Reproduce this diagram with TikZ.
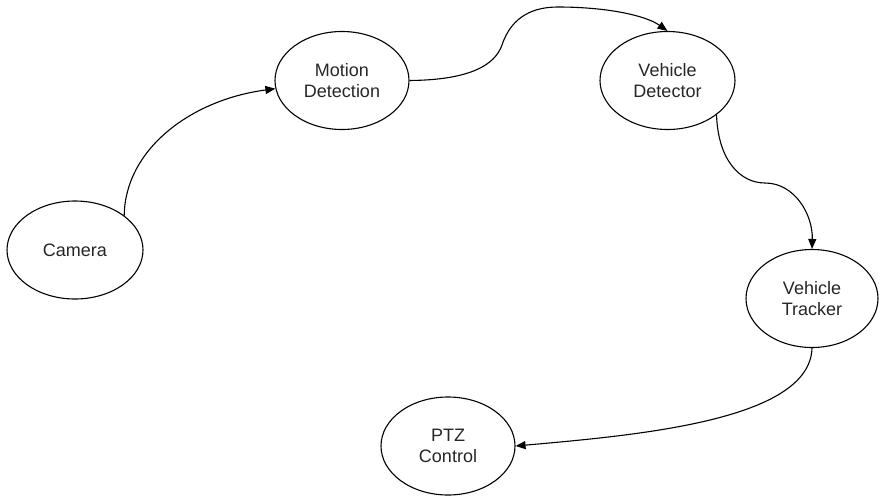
\documentclass[tikz,border=0pt]{standalone}
\usepackage{fontspec}
\setmainfont{Liberation Sans}
\usetikzlibrary{shapes.geometric,arrows.meta}
\begin{document}
\begin{tikzpicture}[x=1pt,y=-1pt,
  stage/.style={ellipse, draw=black, line width=1.1pt, inner sep=0pt,
    minimum width=134pt, minimum height=98pt, align=center,
    text=black!85, font=\fontsize{18}{21.5}\selectfont},
  flow/.style={draw=black, line width=1.1pt, -{Triangle[length=10pt,width=8pt]}}]
\useasboundingbox (0,0) rectangle (879,496);
\node[stage, minimum width=136pt] (cam) at (75,250) {Camera};
\node[stage] (md) at (342,80.5) {Motion\\Detection};
\node[stage, minimum width=135pt] (vd) at (667.5,80.5) {Vehicle\\Detector};
\node[stage, minimum width=132pt] (vt) at (812,298.5) {Vehicle\\Tracker};
\node[stage] (ptz) at (448,446) {PTZ\\Control};
\draw[flow] (cam.35) .. controls (125,150) and (190,100) .. (md.187);
\draw[flow] (md.east) .. controls (470,80) and (495,65) .. (502,45)
  .. controls (512,15) and (535,7) .. (558,7)
  .. controls (605,7) and (645,15) .. (vd.north);
\draw[flow] (vd.-35) .. controls (718,160) and (740,183) .. (765,183)
  .. controls (795,183) and (813,215) .. (vt.north);
\draw[flow] (vt.south) .. controls (810,420) and (640,435) .. (ptz.east);
\end{tikzpicture}
\end{document}
